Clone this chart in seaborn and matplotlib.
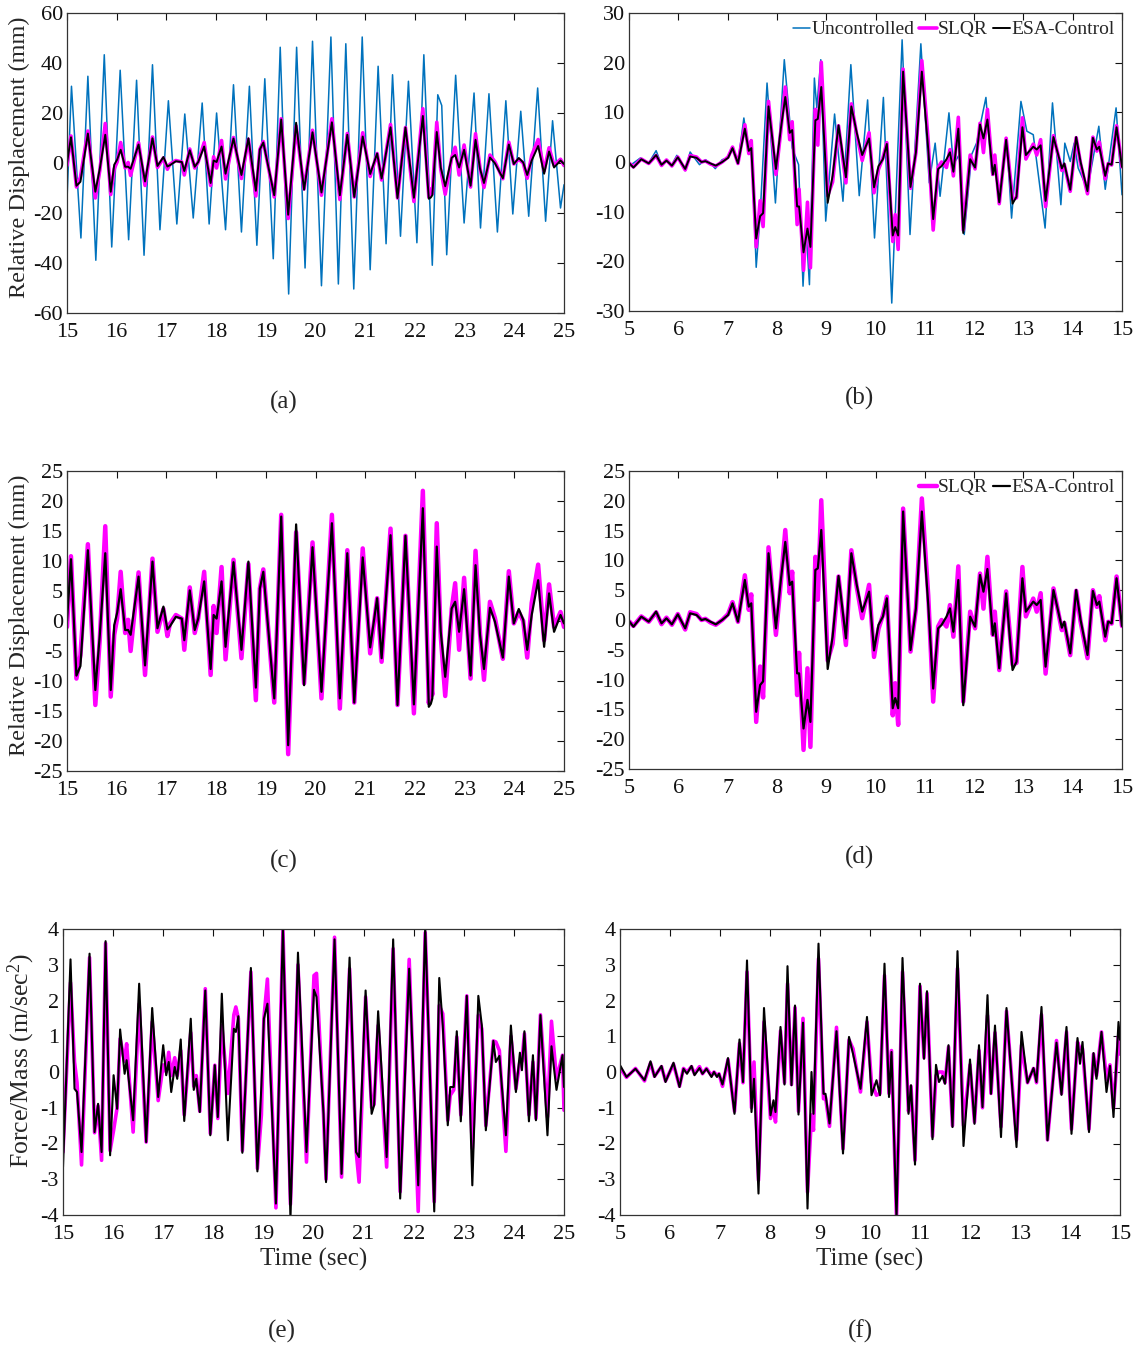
import matplotlib
matplotlib.use("Agg")
import matplotlib.pyplot as plt
import seaborn as sns

# ---------------- (a)/(c): 15-25 s, relative displacement (mm) ----------------
T_UNC_A = [15.00, 15.09, 15.28, 15.42, 15.58, 15.75, 15.90, 16.07, 16.24, 16.40,
           16.55, 16.72, 16.87, 17.04, 17.21, 17.37, 17.54, 17.72, 17.86, 18.01,
           18.19, 18.35, 18.51, 18.67, 18.82, 18.98, 19.15, 19.29, 19.46, 19.62,
           19.79, 19.94, 20.12, 20.31, 20.46, 20.61, 20.77, 20.94, 21.10, 21.26,
           21.42, 21.55, 21.71, 21.87, 22.04, 22.18, 22.35, 22.46, 22.54, 22.64,
           22.82, 22.99, 23.19, 23.32, 23.49, 23.66, 23.83, 23.97, 24.13, 24.29,
           24.47, 24.63, 24.77, 24.93, 25.00]
D_UNC_A = [-14.7, 30.7, -30.0, 34.7, -38.9, 43.3, -33.6, 37.1, -30.7, 33.1,
           -36.9, 39.3, -26.7, 24.9, -24.4, 19.6, -22.0, 24.0, -24.4, 20.0,
           -26.7, 31.3, -27.6, 30.7, -32.9, 33.7, -38.3, 46.3, -52.4, 46.3,
           -42.0, 48.7, -49.1, 50.4, -48.4, 47.7, -50.4, 50.4, -42.7, 38.7,
           -32.3, 35.3, -29.3, 32.7, -31.9, 43.3, -40.9, 27.3, 23.0, -36.7,
           35.1, -24.0, 28.0, -26.0, 27.7, -27.6, 24.9, -20.4, 20.7, -21.3,
           30.0, -23.3, 16.9, -18.0, -8.7]

T_CTRL_A = [15.00, 15.08, 15.19, 15.27, 15.42, 15.57, 15.66, 15.77, 15.88, 15.95,
            16.01, 16.08, 16.17, 16.23, 16.28, 16.44, 16.57, 16.72, 16.82, 16.94,
            17.02, 17.07, 17.19, 17.31, 17.36, 17.47, 17.57, 17.64, 17.76, 17.89,
            17.95, 18.01, 18.11, 18.19, 18.35, 18.51, 18.65, 18.80, 18.88, 18.95,
            19.17, 19.31, 19.45, 19.61, 19.77, 19.94, 20.12, 20.33, 20.49, 20.64,
            20.78, 20.95, 21.10, 21.24, 21.33, 21.51, 21.65, 21.81, 21.98, 22.16,
            22.28, 22.32, 22.35, 22.44, 22.52, 22.61, 22.74, 22.81, 22.89, 22.99,
            23.12, 23.22, 23.31, 23.39, 23.51, 23.61, 23.77, 23.89, 23.99, 24.09,
            24.18, 24.26, 24.35, 24.48, 24.60, 24.70, 24.80, 24.93, 25.00]
D_ESA_A = [0.0, 10.3, -9.1, -7.5, 11.8, -11.5, -2.3, 11.3, -11.5, -0.7,
           1.4, 5.3, -1.5, -1.5, -2.3, 7.4, -7.4, 9.9, -1.2, 2.4,
           -1.4, -0.9, 0.7, 0.4, -3.2, 5.1, -1.5, 0.4, 6.6, -8.0,
           1.0, 0.4, 6.6, -4.3, 9.8, -4.8, 9.9, -11.1, 5.4, 8.2,
           -12.9, 17.4, -20.7, 16.1, -10.7, 12.3, -11.8, 16.3, -12.9, 11.3,
           -13.6, 10.6, -4.4, 3.8, -6.2, 14.3, -14.0, 14.2, -13.9, 18.8,
           -14.3, -13.8, -12.9, 12.4, -1.8, -9.3, 2.1, 3.2, -1.8, 5.3,
           -9.1, 9.3, -2.3, -8.0, 2.2, -0.1, -6.1, 7.4, -0.4, 2.0,
           0.2, -4.8, 1.0, 6.8, -4.3, 4.6, -1.8, 1.0, -0.4]
D_SLQR_A = [-1.0, 10.8, -9.6, -5.7, 12.8, -14.0, -3.0, 15.8, -12.6, -2.3,
            0.5, 8.2, -2.0, 0.2, -5.0, 8.1, -9.0, 10.4, -1.8, 2.0,
            -2.5, -0.5, 1.0, 0.4, -4.8, 5.6, -2.0, 0.4, 8.2, -9.0,
            2.5, -2.0, 9.0, -6.4, 10.2, -6.2, 9.5, -13.2, 5.4, 8.6,
            -13.6, 17.7, -22.2, 14.8, -10.4, 13.1, -12.9, 17.7, -14.6, 11.8,
            -13.6, 12.1, -5.4, 3.8, -6.8, 15.4, -14.0, 14.2, -15.4, 21.7,
            -13.7, -10.4, -12.3, 16.3, -2.5, -12.5, 2.0, 6.3, -4.8, 7.2,
            -9.6, 11.7, -2.0, -9.8, 3.2, 0.5, -6.3, 8.3, -0.4, 1.5,
            0.0, -6.1, 3.0, 9.4, -3.2, 6.1, -1.0, 1.5, -1.0]

# ---------------- (b)/(d): 5-15 s, relative displacement (mm) ----------------
T_UNC_B = [5.00, 5.23, 5.40, 5.55, 5.66, 5.77, 5.87, 5.97, 6.14, 6.24,
           6.43, 6.55, 6.65, 6.75, 6.89, 7.01, 7.10, 7.21, 7.33, 7.41,
           7.48, 7.58, 7.66, 7.80, 7.97, 8.15, 8.31, 8.44, 8.53, 8.59,
           8.66, 8.76, 8.81, 8.89, 8.99, 9.17, 9.34, 9.50, 9.67, 9.84,
           9.98, 10.16, 10.33, 10.54, 10.70, 10.92, 11.09, 11.21, 11.31, 11.49,
           11.58, 11.70, 11.80, 11.95, 12.05, 12.24, 12.36, 12.44, 12.51, 12.66,
           12.76, 12.95, 13.07, 13.20, 13.44, 13.59, 13.76, 13.84, 13.95, 14.03,
           14.11, 14.30, 14.53, 14.66, 14.88, 15.00]
D_UNC_B = [-0.87, 0.81, -0.20, 2.28, -0.54, 0.47, -0.54, 1.34, -1.74, 2.01,
           -0.54, 0.47, -0.20, -1.34, 0.47, 0.81, 2.82, -0.20, 8.86, 3.15,
           4.50, -21.2, -10.6, 15.9, -8.25, 20.6, 2.82, -0.54, -25.0, -13.3,
           -24.7, 16.9, 10.9, 20.6, -11.9, 9.66, -7.90, 19.6, -6.78, 12.5,
           -15.3, 13.0, -28.4, 24.6, -14.6, 23.8, -4.2, 3.8, -6.9, 9.9,
           -0.5, 1.5, -14.6, 1.5, 3.8, 13.0, -2.6, -1.6, -8.3, 4.5,
           -11.3, 12.2, 6.2, 5.5, -13.3, 11.9, -8.6, 3.8, 0.1, 3.8,
           -1.2, -5.5, 7.2, -5.5, 10.9, -6.6]

T_CTRL_B = [5.01, 5.09, 5.25, 5.40, 5.55, 5.66, 5.76, 5.87, 5.99, 6.14,
            6.24, 6.37, 6.47, 6.55, 6.65, 6.76, 6.89, 7.01, 7.10, 7.21,
            7.35, 7.43, 7.48, 7.58, 7.66, 7.72, 7.83, 7.98, 8.08, 8.17,
            8.26, 8.31, 8.41, 8.45, 8.54, 8.62, 8.68, 8.78, 8.83, 8.90,
            9.03, 9.13, 9.25, 9.40, 9.51, 9.62, 9.73, 9.87, 9.97, 10.06,
            10.15, 10.23, 10.35, 10.40, 10.46, 10.56, 10.71, 10.82, 10.94, 11.07,
            11.17, 11.27, 11.34, 11.44, 11.51, 11.58, 11.68, 11.78, 11.92, 12.02,
            12.12, 12.19, 12.27, 12.38, 12.42, 12.51, 12.65, 12.78, 12.86, 12.98,
            13.05, 13.20, 13.27, 13.35, 13.45, 13.61, 13.78, 13.83, 13.95, 14.07,
            14.16, 14.30, 14.41, 14.49, 14.54, 14.66, 14.72, 14.79, 14.89, 15.00]
D_ESA_B = [-0.28, -1.12, 0.56, -0.28, 1.40, -0.56, 0.28, -0.73, 0.95, -1.40,
           1.12, 0.84, 0.00, 0.17, -0.28, -0.73, 0.00, 0.84, 2.80, -0.28,
           6.71, 2.24, 2.80, -15.4, -10.9, -10.3, 11.2, -1.40, 6.71, 13.1,
           5.87, 6.43, -8.95, -8.95, -18.2, -13.4, -17.1, 8.39, 8.67, 15.1,
           -8.22, -2.80, 7.38, -3.08, 11.2, 5.87, 1.40, 4.75, -5.10, -0.84,
           0.56, 3.64, -14.8, -13.1, -14.8, 18.2, -5.03, 1.96, 18.2, 2.52,
           -11.5, -1.40, -0.84, 0.56, 1.96, -1.96, 6.71, -14.3, 0.56, -1.12,
           7.55, 4.75, 8.56, -2.52, -0.56, -8.11, 4.47, -8.39, -7.00, 7.00,
           1.40, 3.08, 2.52, 3.36, -7.83, 5.03, -1.29, -0.28, -5.59, 5.03,
           0.00, -5.87, 4.86, 2.52, 3.08, -2.80, -0.28, -0.56, 7.00, -1.00]
D_SLQR_B = [-0.28, -1.0, 0.6, -0.3, 1.3, -0.7, 0.4, -0.8, 1.0, -1.6,
            1.3, 1.0, 0.0, 0.2, -0.4, -0.8, 0.0, 1.0, 3.0, -0.3,
            7.5, 1.7, 4.3, -17.1, -7.8, -13.0, 12.2, -2.5, 6.3, 15.1,
            4.5, 8.1, -12.6, -5.5, -21.8, -8.1, -21.3, 10.6, 3.4, 20.1,
            -6.8, -4.0, 7.3, -4.2, 11.7, 5.5, 0.3, 5.9, -6.2, -1.5,
            0.8, 3.9, -16.0, -10.6, -17.6, 18.7, -5.3, 1.9, 20.4, 4.1,
            -13.7, -1.1, 0.0, -1.1, 2.5, -2.8, 9.0, -13.7, 1.4, -1.4,
            7.8, 1.9, 10.6, -2.5, 1.4, -8.4, 4.8, -7.5, -7.2, 8.9,
            0.6, 3.6, 1.4, 4.5, -9.0, 5.3, -1.7, -0.5, -5.9, 4.9,
            -0.3, -6.4, 5.0, 2.2, 4.0, -3.4, -0.3, -0.6, 7.3, -1.0]

# ---------------- (e): 15-25 s, control force / mass (m/s^2) ----------------
T_E = [15.00, 15.15, 15.23, 15.28, 15.37, 15.53, 15.63, 15.70, 15.77, 15.85,
       15.94, 16.01, 16.08, 16.14, 16.23, 16.27, 16.40, 16.52, 16.66, 16.78,
       16.90, 17.00, 17.06, 17.11, 17.16, 17.23, 17.28, 17.35, 17.42, 17.55,
       17.61, 17.66, 17.73, 17.84, 17.94, 18.03, 18.09, 18.17, 18.29, 18.41,
       18.45, 18.50, 18.58, 18.75, 18.88, 18.96, 19.01, 19.08, 19.25, 19.39,
       19.54, 19.69, 19.86, 20.01, 20.06, 20.20, 20.25, 20.42, 20.56, 20.72,
       20.85, 20.91, 21.04, 21.16, 21.21, 21.29, 21.46, 21.59, 21.73, 21.91,
       22.09, 22.23, 22.41, 22.51, 22.58, 22.68, 22.73, 22.80, 22.86, 22.94,
       23.06, 23.17, 23.29, 23.36, 23.44, 23.59, 23.64, 23.71, 23.84, 23.94,
       24.04, 24.12, 24.16, 24.21, 24.30, 24.38, 24.44, 24.53, 24.67, 24.75,
       24.85, 24.97, 25.00]
F_ESA_E = [-2.66, 3.15, -0.47, -0.56, -2.24, 3.31, -1.68, -0.89, -2.24, 3.66,
           -2.33, -0.09, -1.03, 1.19, -0.05, 0.33, -1.35, 2.47, -1.96, 1.79,
           -0.70, 0.75, -0.09, 0.28, -0.56, 0.14, -0.19, 0.91, -1.37, 1.49,
           -0.50, -0.19, -1.12, 2.28, -1.77, 0.19, -1.26, 2.19, -1.91, 1.21,
           1.12, 1.56, -2.26, 2.91, -2.78, -0.37, 1.49, 1.91, -3.68, 4.06,
           -4.10, 3.34, -2.24, 2.30, 2.10, -1.17, -3.08, 3.71, -2.85, 3.20,
           -2.24, -2.38, 2.28, -1.17, -0.93, 1.70, -2.38, 3.71, -3.54, 2.89,
           -3.17, 4.06, -3.90, 2.63, 1.30, -1.49, -0.42, -0.42, 1.14, -1.38,
           2.13, -3.17, 2.13, 1.30, -1.63, 0.87, 0.28, 0.45, -1.77, 1.30,
           -0.56, 0.54, 0.05, 1.14, -1.38, 0.47, -1.35, 1.59, -1.77, 0.72,
           -0.50, 0.47, -0.42]
F_SLQR_E = [-2.24, 2.50, 0.28, -0.30, -2.60, 3.20, -1.70, -0.95, -2.47, 3.60,
            -2.20, -1.63, -1.00, 0.93, 0.30, 0.79, -1.68, 1.90, -1.96, 1.40,
            -0.80, 0.20, 0.00, 0.55, -0.10, 0.40, -0.10, 0.60, -1.20, 1.10,
            -0.40, -0.10, -1.10, 2.33, -1.72, 0.19, -1.30, 1.30, -0.60, 1.60,
            1.82, 1.50, -2.20, 2.80, -2.70, -1.20, 1.50, 2.60, -3.80, 3.97,
            -3.70, 3.00, -2.52, 2.70, 2.76, -1.20, -3.00, 3.77, -2.94, 2.89,
            -2.20, -3.08, 2.10, -1.00, -0.90, 1.30, -2.66, 3.45, -3.35, 3.15,
            -3.90, 3.90, -3.63, 1.86, 1.63, -1.35, -0.65, -0.50, 0.98, -1.20,
            2.13, -2.14, 1.59, 1.20, -1.50, 0.87, 0.84, 0.60, -2.22, 1.00,
            -0.47, 0.30, 0.30, 1.07, -1.20, 0.28, -1.30, 1.60, -1.26, 1.42,
            -0.19, 0.47, -1.07]

# ---------------- (f): 5-15 s, control force / mass (m/s^2) ----------------
T_F = [5.01, 5.13, 5.31, 5.49, 5.61, 5.69, 5.83, 5.91, 6.07, 6.19,
       6.27, 6.34, 6.43, 6.49, 6.59, 6.65, 6.73, 6.83, 6.88, 6.94,
       6.98, 7.05, 7.16, 7.29, 7.39, 7.46, 7.54, 7.63, 7.68, 7.77,
       7.88, 8.01, 8.07, 8.11, 8.21, 8.29, 8.35, 8.43, 8.50, 8.57,
       8.66, 8.75, 8.83, 8.87, 8.97, 9.07, 9.11, 9.19, 9.33, 9.46,
       9.58, 9.66, 9.81, 9.94, 10.03, 10.13, 10.20, 10.29, 10.38, 10.43,
       10.53, 10.65, 10.77, 10.82, 10.90, 11.00, 11.08, 11.14, 11.25, 11.32,
       11.38, 11.45, 11.50, 11.57, 11.65, 11.75, 11.87, 12.00, 12.09, 12.18,
       12.25, 12.35, 12.42, 12.50, 12.62, 12.73, 12.93, 13.03, 13.15, 13.27,
       13.33, 13.43, 13.55, 13.73, 13.83, 13.93, 14.03, 14.15, 14.20, 14.25,
       14.38, 14.47, 14.53, 14.63, 14.73, 14.80, 14.87, 14.97, 15.00]
F_ESA_F = [0.17, -0.14, 0.09, -0.23, 0.30, -0.14, 0.17, -0.28, 0.26, -0.42,
           0.09, -0.05, 0.17, -0.09, 0.11, -0.05, 0.09, -0.14, 0.00, -0.14,
           -0.05, -0.35, 0.39, -1.17, 0.91, -0.28, 3.12, -1.12, -0.19, -3.40,
           1.79, -1.21, -0.79, -1.12, 1.26, -0.35, 2.96, -0.37, 1.86, -1.19,
           1.38, -3.82, 0.00, -1.17, 3.59, -0.61, -0.61, -1.44, 1.14, -2.28,
           0.98, 0.51, -0.47, 1.54, -0.65, -0.23, -0.65, 3.03, -0.70, 0.56,
           -4.10, 3.19, -1.17, -0.37, -2.59, 2.47, 0.37, 2.26, -1.88, 0.20,
           -0.28, -0.11, -0.33, 0.75, -1.54, 3.38, -2.07, 0.35, -1.45, 0.75,
           -0.98, 2.15, -0.61, 1.30, -1.82, 1.79, -2.10, 1.12, -0.30, 0.11,
           -0.28, 1.82, -1.91, 0.82, -0.64, 1.26, -1.73, 0.95, 0.23, 0.84,
           -1.68, 0.53, -0.19, 1.12, -0.56, 0.17, -1.26, 1.40, 0.90]
F_SLQR_F = [0.10, -0.15, 0.10, -0.25, 0.25, -0.12, 0.15, -0.25, 0.22, -0.40,
            0.10, 0.00, 0.15, -0.05, 0.15, -0.05, 0.10, -0.10, 0.00, -0.10,
            -0.05, -0.40, 0.35, -1.10, 0.80, -0.30, 2.80, -1.00, 0.28, -3.03,
            1.40, -1.30, -1.00, -1.40, 1.15, -0.30, 2.47, -0.35, 1.80, -1.10,
            1.50, -3.36, -1.20, -1.63, 3.17, -0.75, -0.70, -1.52, 1.25, -2.15,
            0.90, 0.65, -0.56, 1.40, -0.30, -0.65, -0.60, 2.70, -0.60, 0.60,
            -4.10, 2.80, -1.10, -0.40, -2.47, 2.40, 0.40, 2.20, -1.80, -0.10,
            0.00, 0.00, -0.30, 0.70, -1.50, 2.90, -1.50, 0.20, -1.40, 0.60,
            -1.00, 1.58, -0.60, 1.10, -1.53, 1.70, -1.90, 0.75, -0.30, 0.10,
            -0.30, 1.60, -1.90, 0.88, -0.60, 1.12, -1.60, 0.84, 0.65, 0.65,
            -1.60, 0.50, -0.10, 1.12, -0.20, 0.20, -1.02, 1.00, 0.50]

C_UNC = "#0072BD"
C_SLQR = "#FF00FF"
C_ESA = "#000000"

sns.set_theme(style="white")
plt.rcParams["font.family"] = ["Liberation Serif", "DejaVu Serif"]
plt.rcParams["mathtext.fontset"] = "custom"
plt.rcParams["mathtext.rm"] = "Liberation Serif"
plt.rcParams["mathtext.it"] = "Liberation Serif:italic"
plt.rcParams["axes.unicode_minus"] = False

W, H = 1142, 1350
fig = plt.figure(figsize=(W / 100, H / 100), dpi=100)


def make_axes(x0, x1, y0, y1):
    return fig.add_axes([x0 / W, 1 - y1 / H, (x1 - x0) / W, (y1 - y0) / H])


def line(ax, t, v, color, lw, label=None):
    sns.lineplot(x=t, y=v, ax=ax, color=color, linewidth=lw, sort=False,
                 estimator=None, label=label)


def style(ax, xlim, ylim, yticks, xlabel=None, ylabel=None, ylab_x=-0.07,
          ylab_y=0.5, ylab_size=17.5):
    ax.set_xlim(*xlim)
    ax.set_ylim(*ylim)
    ax.set_xticks(range(int(xlim[0]), int(xlim[1]) + 1))
    ax.set_yticks(yticks)
    ax.tick_params(direction="in", top=True, right=True, length=5, width=0.8,
                   labelsize=16, colors="#111111")
    ax.tick_params(axis="x", pad=7)
    ax.tick_params(axis="y", pad=3)
    for s in ax.spines.values():
        s.set_linewidth(0.9)
        s.set_color("#333333")
    ax.set_xlabel(xlabel or "", fontsize=18, labelpad=3)
    ax.set_ylabel(ylabel or "", fontsize=ylab_size)
    ax.yaxis.set_label_coords(ylab_x, ylab_y)
    if ax.get_legend() is not None:
        ax.get_legend().remove()


ax_a = make_axes(67, 564, 13, 313)
ax_b = make_axes(629, 1122, 13, 311)
ax_c = make_axes(67, 564, 471, 771)
ax_d = make_axes(629, 1122, 471, 769)
ax_e = make_axes(63, 564, 929, 1215)
ax_f = make_axes(620, 1120, 929, 1215)

YL_D = "Relative Displacement (mm)"
YL_F = "Force/Mass (m/sec$^2$)"

# (a)
line(ax_a, T_UNC_A, D_UNC_A, C_UNC, 1.1)
line(ax_a, T_CTRL_A, D_SLQR_A, C_SLQR, 2.6)
line(ax_a, T_CTRL_A, D_ESA_A, C_ESA, 1.4)
style(ax_a, (15, 25), (-60, 60), range(-60, 61, 20), ylabel=YL_D, ylab_x=-0.074,
      ylab_y=0.52)

# (b)
line(ax_b, T_UNC_B, D_UNC_B, C_UNC, 1.1, "Uncontrolled")
line(ax_b, T_CTRL_B, D_SLQR_B, C_SLQR, 2.6, "SLQR")
line(ax_b, T_CTRL_B, D_ESA_B, C_ESA, 1.4, "ESA-Control")
style(ax_b, (5, 15), (-30, 30), range(-30, 31, 10))
h, l = ax_b.get_legend_handles_labels()
ax_b.legend(h, l, ncol=3, loc="upper right", frameon=False, fontsize=14,
            handlelength=0.9, handletextpad=0.05, columnspacing=0.25,
            borderaxespad=0.1, borderpad=0.3)

# (c)
line(ax_c, T_CTRL_A, D_SLQR_A, C_SLQR, 3.2)
line(ax_c, T_CTRL_A, D_ESA_A, C_ESA, 1.6)
style(ax_c, (15, 25), (-25, 25), range(-25, 26, 5), ylabel=YL_D, ylab_x=-0.074,
      ylab_y=0.52)

# (d)
line(ax_d, T_CTRL_B, D_SLQR_B, C_SLQR, 3.2, "SLQR")
line(ax_d, T_CTRL_B, D_ESA_B, C_ESA, 1.6, "ESA-Control")
style(ax_d, (5, 15), (-25, 25), range(-25, 26, 5))
h, l = ax_d.get_legend_handles_labels()
ax_d.legend(h, l, ncol=2, loc="upper right", frameon=False, fontsize=14,
            handlelength=0.9, handletextpad=0.05, columnspacing=0.25,
            borderaxespad=0.1, borderpad=0.3)

# (e)
line(ax_e, T_E, F_SLQR_E, C_SLQR, 2.6)
line(ax_e, T_E, F_ESA_E, C_ESA, 1.5)
style(ax_e, (15, 25), (-4, 4), range(-4, 5), xlabel="Time (sec)", ylabel=YL_F,
      ylab_x=-0.052, ylab_y=0.54, ylab_size=18.5)

# (f)
line(ax_f, T_F, F_SLQR_F, C_SLQR, 2.6)
line(ax_f, T_F, F_ESA_F, C_ESA, 1.5)
style(ax_f, (5, 15), (-4, 4), range(-4, 5), xlabel="Time (sec)")

for txt, x, y in [("(a)", 284, 402), ("(b)", 860, 398), ("(c)", 284, 861),
                  ("(d)", 860, 857), ("(e)", 282, 1331), ("(f)", 860, 1331)]:
    fig.text(x / W, 1 - y / H, txt, ha="center", va="center", fontsize=18)

fig.savefig("out.png", dpi=100, facecolor="white")
